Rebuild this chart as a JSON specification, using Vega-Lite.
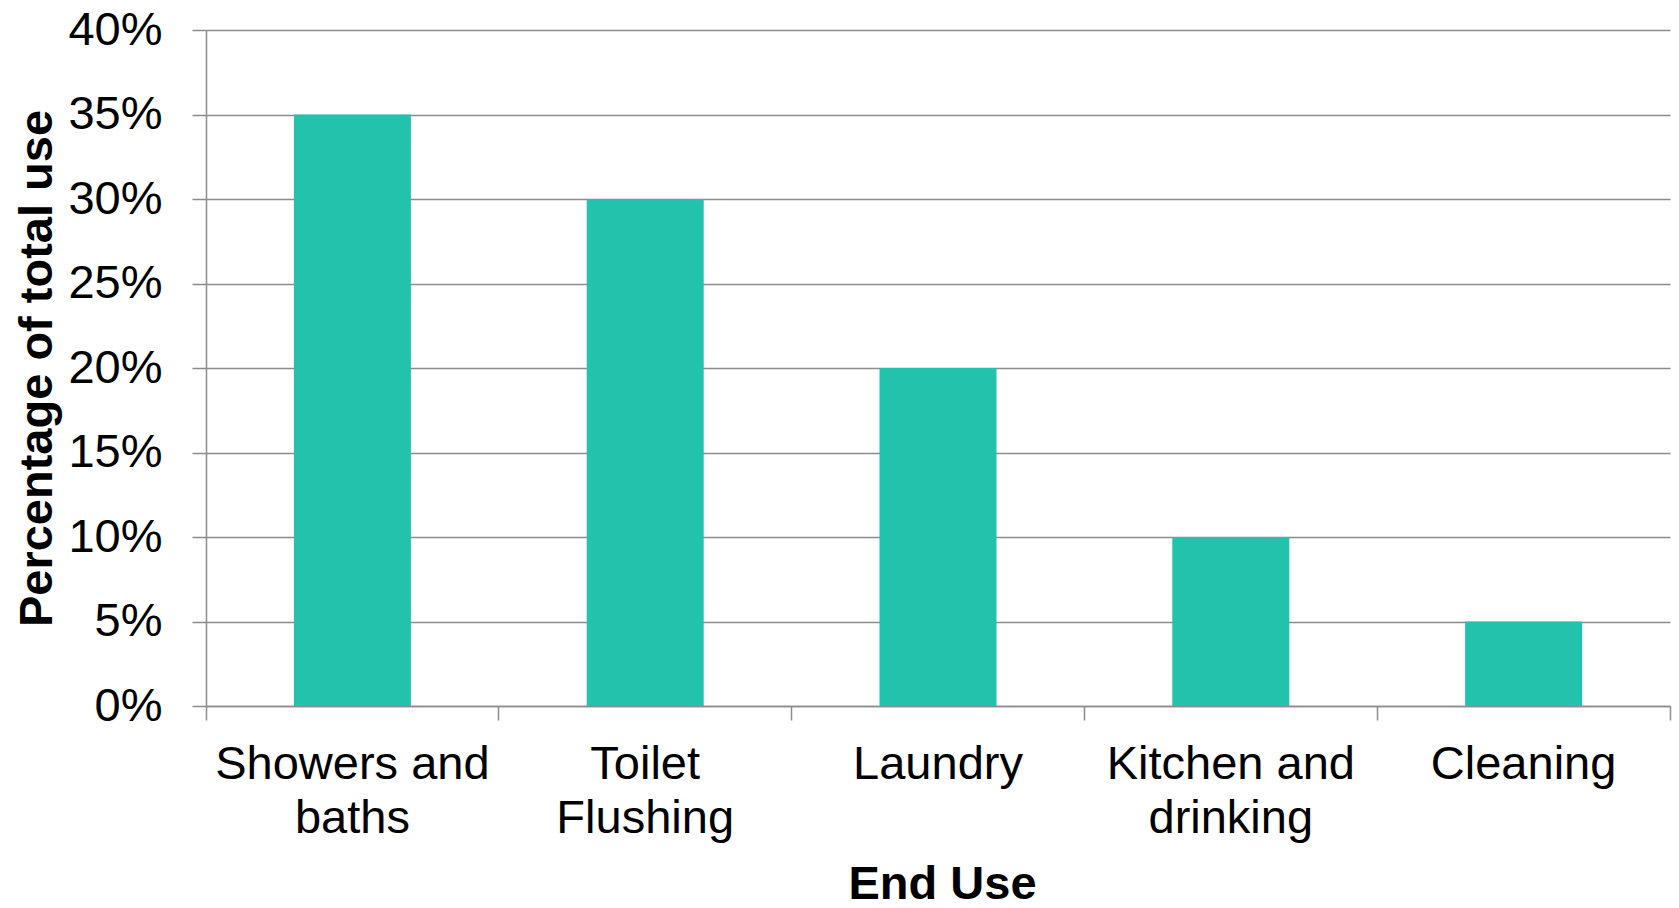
{
  "$schema": "https://vega.github.io/schema/vega-lite/v6.json",
  "width": 1464,
  "height": 676,
  "autosize": {"type": "none"},
  "padding": {"left": 206, "top": 30, "right": 9, "bottom": 202},
  "background": "white",
  "config": {"view": {"stroke": null}, "font": "Liberation Sans"},
  "data": {
    "values": [
      {"use": "Showers and baths", "pct": 0.35},
      {"use": "Toilet Flushing", "pct": 0.30},
      {"use": "Laundry", "pct": 0.20},
      {"use": "Kitchen and drinking", "pct": 0.10},
      {"use": "Cleaning", "pct": 0.05}
    ]
  },
  "mark": {"type": "bar", "color": "#23c2ad", "width": 117},
  "encoding": {
    "x": {
      "field": "use",
      "type": "nominal",
      "sort": null,
      "scale": {"paddingInner": 0, "paddingOuter": 0},
      "axis": {
        "title": "End Use",
        "titleFont": "Liberation Sans",
        "titleFontSize": 47,
        "titleFontWeight": "bold",
        "titleColor": "#000000",
        "titleX": 736,
        "titleY": 192,
        "titleBaseline": "alphabetic",
        "titleAlign": "center",
        "labelAngle": 0,
        "labelFont": "Liberation Sans",
        "labelFontSize": 47,
        "labelColor": "#000000",
        "labelBaseline": "alphabetic",
        "labelPadding": 58,
        "labelLineHeight": 54,
        "labelLimit": 0,
        "labelExpr": "!isString(datum.value) ? '' : (indexof(datum.value, ' ') < 0 ? datum.value : [slice(datum.value, 0, lastindexof(datum.value, ' ')), slice(datum.value, lastindexof(datum.value, ' ') + 1)])",
        "bandPosition": 1,
        "tickExtra": true,
        "tickSize": 14,
        "tickColor": "#8c8c8c",
        "tickWidth": 1.5,
        "domainColor": "#8c8c8c",
        "domainWidth": 1.5,
        "grid": false
      }
    },
    "y": {
      "field": "pct",
      "type": "quantitative",
      "scale": {"domain": [0, 0.4], "nice": false},
      "axis": {
        "title": "Percentage of total use",
        "titleFont": "Liberation Sans",
        "titleFontSize": 47,
        "titleFontWeight": "bold",
        "titleColor": "#000000",
        "titleAngle": -90,
        "titleX": -155,
        "titleY": 338,
        "titleAlign": "center",
        "titleBaseline": "alphabetic",
        "values": [0, 0.05, 0.1, 0.15, 0.2, 0.25, 0.3, 0.35, 0.4],
        "format": ".0%",
        "labelFont": "Liberation Sans",
        "labelFontSize": 47,
        "labelColor": "#000000",
        "labelPadding": 30,
        "tickSize": 14,
        "tickColor": "#8c8c8c",
        "tickWidth": 1.5,
        "domainColor": "#8c8c8c",
        "domainWidth": 1.5,
        "grid": true,
        "gridColor": "#8c8c8c",
        "gridWidth": 1.5
      }
    }
  }
}
